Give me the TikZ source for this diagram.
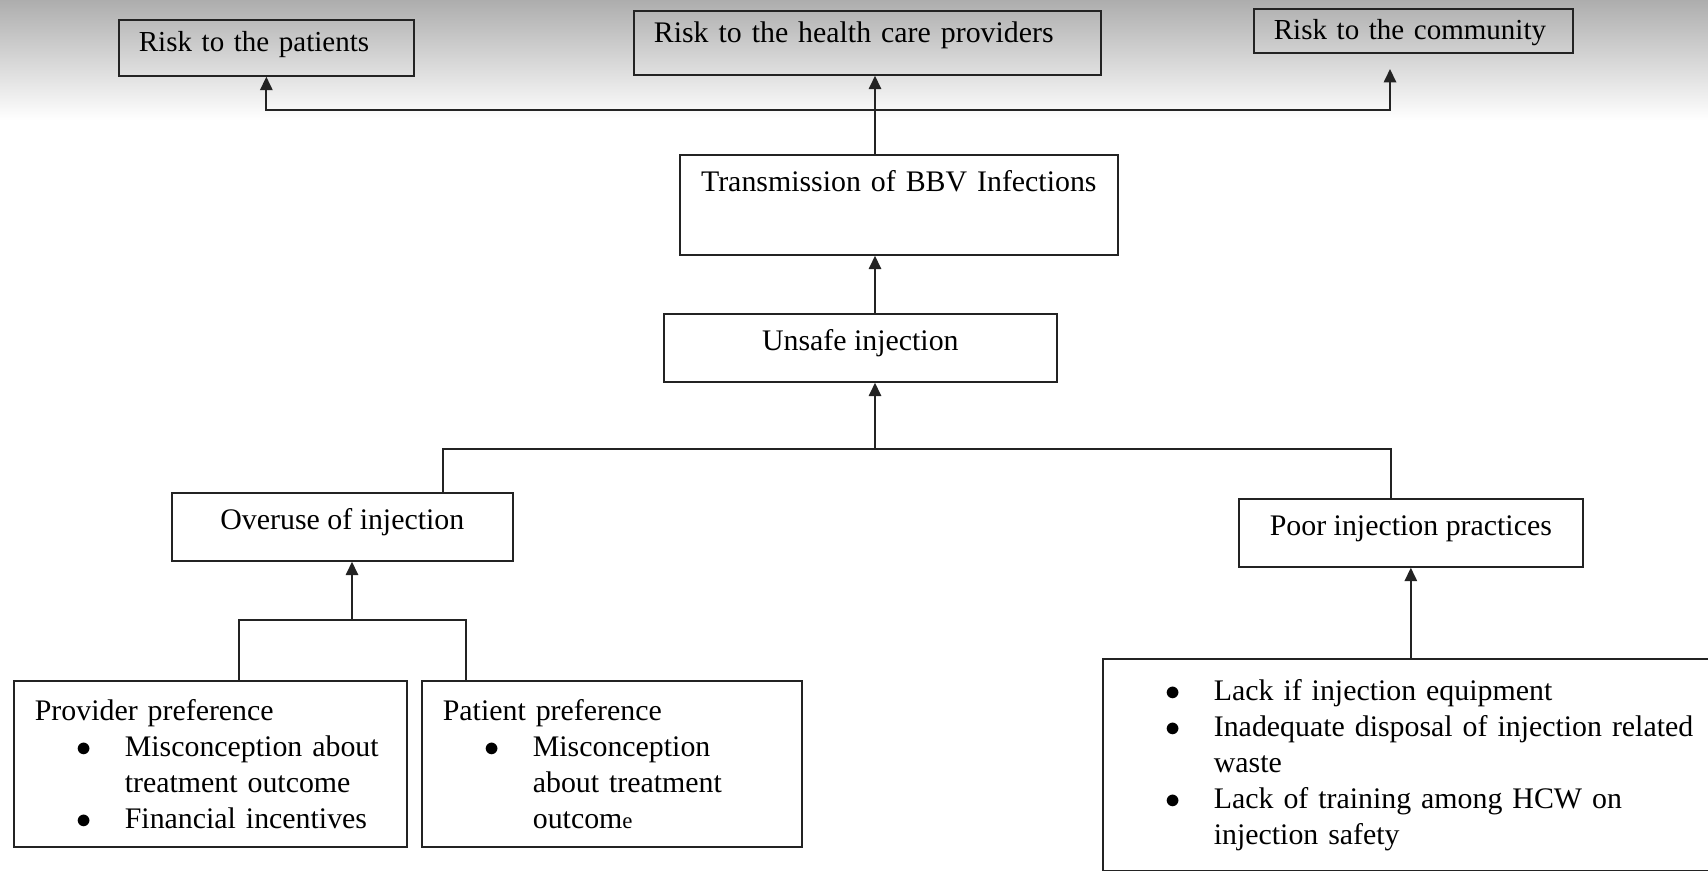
\documentclass[tikz,border=0pt]{standalone}
\usepackage{fontspec}
\setmainfont{Liberation Serif}
\usetikzlibrary{arrows.meta}
\definecolor{tinta}{RGB}{35,35,35}
\tikzset{
  caja/.style={rectangle,draw=tinta,line width=1pt,align=center,inner sep=0pt,
    anchor=north west,font=\fontsize{17}{20.5}\selectfont},
  cajauna/.style={caja,text height=0.74cm,text depth=0.62cm},
  cajasup/.style={caja,align=left,inner xsep=0.4cm,font=\fontsize{16.5}{19}\selectfont},
  cajalista/.style={caja,align=left,inner xsep=0.42cm},
  linea/.style={tinta,line width=1pt},
  flecha/.style={linea,-{Triangle[length=0.27cm,width=0.25cm]}},
}
\newcommand{\punto}[1]{\par\noindent\hangindent=1.8cm\hangafter=1%
  \makebox[1.8cm][l]{\hspace{0.83cm}$\bullet$}#1\par}

\begin{document}
\begin{tikzpicture}[x=0.02cm,y=-0.02cm]
  \useasboundingbox (0,0) rectangle (1708,871);
  \shade[top color=black!32,bottom color=white] (0,0) rectangle (1708,120);

  % fila de riesgos
  \node[cajasup,text width=5.1cm,text height=0.64cm,text depth=0.48cm] (pat) at (118,19)
    {Risk to the patients};
  \node[cajasup,text width=8.54cm,text height=0.64cm,text depth=0.64cm,
    font=\fontsize{17}{20.5}\selectfont] (prov) at (633,10)
    {Risk to the health care providers};
  \node[cajasup,text width=5.58cm,text height=0.62cm,text depth=0.26cm] (comm) at (1253,8)
    {Risk to the community};

  % cadena central
  \node[caja,text width=8.76cm,text height=0.74cm,text depth=1.26cm] (trans) at (679,154)
    {Transmission of BBV Infections};
  \node[cajauna,minimum width=7.86cm] (unsafe) at (663,313) {Unsafe injection};
  \node[cajauna,minimum width=6.82cm] (over) at (171,492) {Overuse of injection};
  \node[cajauna,minimum width=6.88cm] (poor) at (1238,498) {Poor injection practices};

  % causas
  \node[cajalista,text width=7.02cm,minimum height=3.32cm] (provpref) at (13,680)
    {Provider preference
     \punto{Misconception about\newline treatment outcome}
     \punto{Financial incentives}};
  \node[cajalista,text width=6.76cm,minimum height=3.32cm] (patpref) at (421,680)
    {Patient preference
     \punto{Misconception\newline about treatment\newline outcom{\fontsize{13}{15}\selectfont e}}};
  \node[cajalista,text width=12.32cm,minimum height=4.24cm] (lista) at (1102,658)
    {\vspace*{-0.3cm}
     \punto{Lack if injection equipment}
     \punto{Inadequate disposal of injection related\newline waste}
     \punto{Lack of training among HCW on\newline injection safety}};

  % conectores
  \coordinate (cima) at (875,110);
  \coordinate (punta) at (1390,69);
  \draw[flecha] (trans.north -| cima) -- (prov.south -| cima);
  \draw[flecha] (cima) -| (pat.south);
  \draw[flecha] (cima) -| (punta);
  \draw[flecha] (unsafe.north -| cima) -- (trans.south -| cima);

  \coordinate (medio) at (875,449);
  \coordinate (izq) at (443,449);
  \coordinate (der) at (1391,449);
  \draw[flecha] (medio) -- (unsafe.south -| medio);
  \draw[linea] (over.north -| izq) -- (izq) -- (der) -- (poor.north -| der);

  \coordinate (union) at (352,620);
  \coordinate (ua) at (239,620);
  \coordinate (ub) at (466,620);
  \draw[linea] (provpref.north -| ua) -- (ua) -- (ub) -- (patpref.north -| ub);
  \draw[flecha] (union) -- (over.south -| union);
  \draw[flecha] (lista.north -| poor.south) -- (poor.south);
\end{tikzpicture}
\end{document}
